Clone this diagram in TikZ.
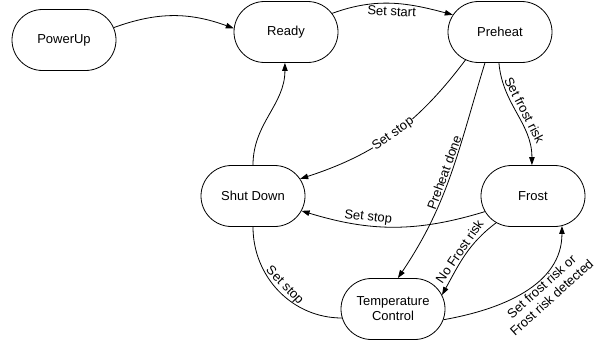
\documentclass[tikz,border=0pt]{standalone}
\usepackage{fontspec}
\setmainfont{Liberation Sans}
\usetikzlibrary{shapes.misc,arrows.meta,calc}
\tikzset{
  state/.style={rounded rectangle, draw, line width=0.8pt, minimum width=104pt, minimum height=61pt, inner sep=0pt, align=center, font=\fontsize{13}{15}\selectfont},
  conn/.style={line width=0.8pt},
  arr/.style={conn, -{Triangle[length=8pt,width=5.5pt]}},
  lbl/.style={font=\fontsize{13}{15}\selectfont, inner sep=1.5pt, sloped},
}
\begin{document}
\begin{tikzpicture}[x=1pt,y=1pt]
\useasboundingbox (0,0) rectangle (594,-340);
\node[state] (pu) at (64,-40) {PowerUp};
\node[state] (ready) at (286,-32) {Ready};
\node[state] (preheat) at (500,-32) {Preheat};
\node[state] (shut) at (253,-196) {Shut Down};
\node[state] (frost) at (533,-196) {Frost};
\node[state] (tc) at (393,-309) {Temperature\\Control};

\draw[arr] (pu.14) to[out=20,in=160] (ready.176);
\draw[arr] (ready.22) to[out=20,in=165] node[lbl, below, pos=0.5, inner sep=3pt] {Set start} (preheat.160);
\draw[arr] (preheat.219) to[out=233,in=18] node[lbl, pos=0.5, fill=white, inner sep=0.5pt] {Set stop} (shut.20);
\draw[arr] (preheat.244) to[out=253,in=56] node[lbl, above, pos=0.5] {Preheat done} (tc.81);
\draw[arr] (preheat.268) to[out=275,in=90] node[lbl, above, pos=0.5, inner sep=3.5pt] {Set frost risk} (frost.92);
\draw[arr] (frost.198) to[out=197,in=-17] node[lbl, above, pos=0.65] {Set stop} (shut.-17);
\draw[arr] (shut.north) to[out=90,in=-90] (ready.268);
\draw[conn] (shut.south) to[out=-90,in=180] node[lbl, above, pos=0.5] {Set stop} (tc.190);
\draw[arr] (frost.216) to[out=217,in=61] node[lbl, above, pos=0.5] {No Frost risk} (tc.16);
\draw[arr] (tc.-12) to[out=10,in=-90] node[lbl, below, pos=0.6, align=center] {Set frost risk or\\Frost risk detected} (frost.-46);
\end{tikzpicture}
\end{document}
